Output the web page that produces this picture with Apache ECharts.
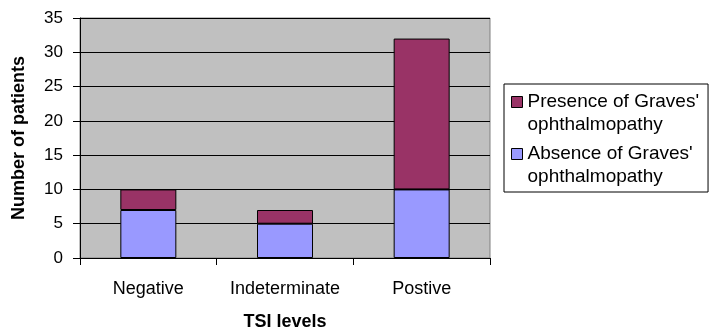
<!DOCTYPE html>
<html>
<head>
<meta charset="utf-8">
<style>
  html, body { margin: 0; padding: 0; background: #ffffff; }
  #chart { width: 712px; height: 331px; }
</style>
<script src="https://cdn.jsdelivr.net/npm/echarts@6/dist/echarts.min.js"></script>
</head>
<body>
<div id="chart"></div>
<script>
// TSI level groups along the x axis
const categories = ['Negative', 'Indeterminate', 'Postive'];

// Patients without / with Graves' ophthalmopathy in each group
const absenceValues = [7, 5, 10];
const presenceValues = [3, 2, 22];

const seriesNames = {
  presence: "Presence of Graves' ophthalmopathy",
  absence: "Absence of Graves' ophthalmopathy"
};

const yTicks = { min: 0, max: 35, step: 5 };

const FONT = 'Liberation Sans, Arial, sans-serif';
const LEGEND_LINE = 23;

const chart = echarts.init(document.getElementById('chart'), null, { renderer: 'canvas' });

chart.setOption({
  animation: false,
  backgroundColor: '#ffffff',
  textStyle: { fontFamily: FONT, color: '#000' },
  grid: {
    left: 80,
    right: 222,
    top: 18,
    bottom: 73,
    outerBoundsMode: 'none',
    containLabel: false,
    show: true,
    backgroundColor: '#C0C0C0',
    borderColor: '#808080',
    borderWidth: 1
  },
  legend: {
    orient: 'vertical',
    left: 504,
    top: 84,
    data: [seriesNames.presence, seriesNames.absence],
    icon: 'rect',
    itemWidth: 11,
    itemHeight: 11,
    // a blank leading line keeps the swatch level with the first text line
    itemGap: -17,
    padding: [-16.5, 9, 3.5, 7],
    borderColor: '#000',
    borderWidth: 1,
    backgroundColor: '#fff',
    formatter: function (name) {
      return '\n' + name.replace(" ophthalmopathy", "\nophthalmopathy");
    },
    textStyle: {
      fontFamily: FONT,
      fontSize: 19,
      lineHeight: LEGEND_LINE,
      color: '#000'
    },
    itemStyle: { borderColor: '#000', borderWidth: 1 }
  },
  xAxis: {
    type: 'category',
    data: categories,
    boundaryGap: true,
    name: 'TSI levels',
    nameLocation: 'middle',
    nameGap: 55,
    nameTextStyle: { fontFamily: FONT, fontSize: 18, fontWeight: 'bold', color: '#000' },
    axisLine: { show: true, lineStyle: { color: '#000', width: 1 } },
    axisTick: { show: true, alignWithLabel: false, length: 7, lineStyle: { color: '#000' } },
    axisLabel: { interval: 0, fontFamily: FONT, fontSize: 18, color: '#000', margin: 22 },
    splitLine: { show: false }
  },
  yAxis: {
    type: 'value',
    min: yTicks.min,
    max: yTicks.max,
    interval: yTicks.step,
    name: 'Number of patients',
    nameLocation: 'middle',
    nameGap: 52,
    nameRotate: 90,
    nameTextStyle: { fontFamily: FONT, fontSize: 18, fontWeight: 'bold', color: '#000' },
    axisLine: { show: true, lineStyle: { color: '#000', width: 1 } },
    axisTick: { show: true, length: 7, lineStyle: { color: '#000' } },
    axisLabel: { fontFamily: FONT, fontSize: 17, color: '#000', margin: 17 },
    splitLine: { show: true, lineStyle: { color: '#000', width: 1 } }
  },
  series: [
    {
      name: seriesNames.absence,
      type: 'bar',
      stack: 'patients',
      data: absenceValues,
      barWidth: 56,
      itemStyle: { color: '#9999FF', borderColor: '#000', borderWidth: 1 }
    },
    {
      name: seriesNames.presence,
      type: 'bar',
      stack: 'patients',
      data: presenceValues,
      barWidth: 56,
      itemStyle: { color: '#993366', borderColor: '#000', borderWidth: 1 }
    }
  ]
});
</script>
</body>
</html>
